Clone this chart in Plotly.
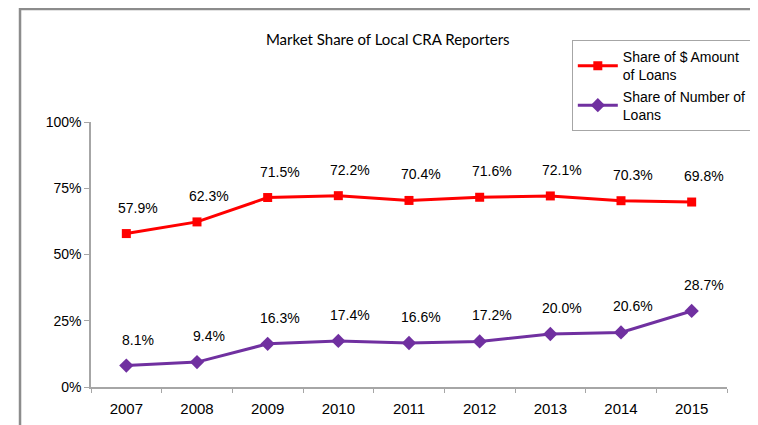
import plotly.graph_objects as go

years = ['2007', '2008', '2009', '2010', '2011', '2012', '2013', '2014', '2015']
share_amount = [57.9, 62.3, 71.5, 72.2, 70.4, 71.6, 72.1, 70.3, 69.8]
share_number = [8.1, 9.4, 16.3, 17.4, 16.6, 17.2, 20.0, 20.6, 28.7]
y_ticks = [0, 25, 50, 75, 100]

RED = '#FF0000'
PURPLE = '#7030A0'
FONT = 'Liberation Sans, Arial'

fig = go.Figure()

fig.add_trace(go.Scatter(
    x=years, y=share_amount, mode='lines+markers',
    name='Share of $ Amount<br>of Loans',
    line=dict(color=RED, width=3),
    marker=dict(symbol='square', size=9, color=RED),
))
fig.add_trace(go.Scatter(
    x=years, y=share_number, mode='lines+markers',
    name='Share of Number of<br>Loans',
    line=dict(color=PURPLE, width=3),
    marker=dict(symbol='diamond', size=11, color=PURPLE),
))

# data labels above the points (sit a little right of the marker, like the original)
labels = []
for series in (share_amount, share_number):
    for i, v in enumerate(series):
        labels.append(dict(x=i, y=v, xref='x', yref='y', text=f'{v:.1f}%',
                           showarrow=False, yanchor='bottom', yshift=16, xshift=12,
                           font=dict(family=FONT, size=14, color='#000000')))

# outer chart frame
frame = dict(type='rect', xref='paper', yref='paper',
             x0=-0.1116, x1=1.039, y0=-0.2, y1=1.426,
             line=dict(color='#8C8C8C', width=2.5), layer='below')

fig.update_layout(
    width=758, height=425,
    margin=dict(l=83, r=39, t=114, b=46),
    paper_bgcolor='white', plot_bgcolor='white',
    annotations=labels,
    shapes=[frame],
    title=dict(text='Market Share of Local CRA Reporters',
               x=0.501, xanchor='center',
               y=0.925, yanchor='middle',
               font=dict(family='Lato, Liberation Sans', size=15, color='#000000')),
    legend=dict(x=0.756, y=1.309, xanchor='left', yanchor='top',
                bordercolor='#A6A6A6', borderwidth=1, bgcolor='white',
                font=dict(family=FONT, size=14, color='#000000'),
                itemwidth=40, tracegroupgap=0),
    xaxis=dict(type='category', tickson='boundaries', ticks='outside', ticklen=4,
               tickcolor='#A6A6A6', showline=True, linecolor='#A6A6A6', linewidth=1.5,
               showgrid=False, zeroline=False, ticklabelstandoff=7,
               tickfont=dict(family=FONT, size=15, color='#000000'),
               range=[-0.5, 8.5]),
    yaxis=dict(range=[0, 100], tickvals=y_ticks,
               ticktext=[f'{t}%' for t in y_ticks],
               ticks='outside', ticklen=5, tickcolor='#A6A6A6',
               showline=True, linecolor='#A6A6A6', linewidth=1.5,
               showgrid=False, zeroline=False,
               tickfont=dict(family=FONT, size=14, color='#000000')),
)

fig.write_html('out.html')
